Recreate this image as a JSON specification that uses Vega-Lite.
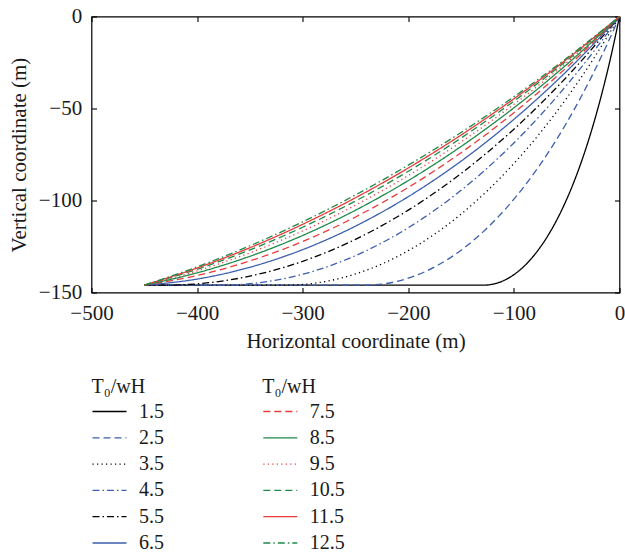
{
  "$schema": "https://vega.github.io/schema/vega-lite/v6.json",
  "width": 528,
  "height": 276,
  "autosize": {"type": "none"},
  "padding": {"left": 91.5, "top": 16.5, "right": 5.5, "bottom": 262.5},
  "config": {
    "font": "Liberation Serif",
    "view": {"stroke": "#000", "strokeWidth": 1.2},
    "axis": {
      "grid": false, "domain": false, "ticks": true, "tickColor": "#000", "tickSize": -5, "tickWidth": 1.1,
      "labelFont": "Liberation Serif", "labelFontSize": 21, "labelColor": "#1a1a1a", "labelFlush": false,
      "titleFont": "Liberation Serif", "titleFontSize": 21, "titleFontWeight": "normal", "titleColor": "#1a1a1a"
    },
    "legend": {
      "symbolType": "stroke", "symbolSize": 1156, "symbolStrokeWidth": 1.3,
      "labelFont": "Liberation Serif", "labelFontSize": 20, "labelColor": "#1a1a1a", "labelOffset": 11.5,
      "titleFont": "Liberation Serif", "titleFontSize": 20, "titleFontWeight": "normal", "titleColor": "#1a1a1a",
      "clipHeight": 22, "rowPadding": 4.3, "titlePadding": 3.5, "padding": 0
    }
  },
  "datasets": {
    "lo": [
      {"T": "1.5", "x": 0, "y": 0}, {"T": "1.5", "x": -5, "y": -13.64}, {"T": "1.5", "x": -10, "y": -26.32},
      {"T": "1.5", "x": -15, "y": -38.09}, {"T": "1.5", "x": -20, "y": -49.0}, {"T": "1.5", "x": -30, "y": -68.51},
      {"T": "1.5", "x": -40, "y": -85.18}, {"T": "1.5", "x": -50, "y": -99.33}, {"T": "1.5", "x": -60, "y": -111.24},
      {"T": "1.5", "x": -70, "y": -121.12}, {"T": "1.5", "x": -80, "y": -129.16}, {"T": "1.5", "x": -90, "y": -135.51},
      {"T": "1.5", "x": -100, "y": -140.29}, {"T": "1.5", "x": -110, "y": -143.6}, {"T": "1.5", "x": -120, "y": -145.48},
      {"T": "1.5", "x": -128.7, "y": -146}, {"T": "1.5", "x": -450, "y": -146},

      {"T": "2.5", "x": 0, "y": 0}, {"T": "2.5", "x": -10, "y": -12.95}, {"T": "2.5", "x": -25, "y": -31.02},
      {"T": "2.5", "x": -50, "y": -57.69}, {"T": "2.5", "x": -75, "y": -80.35}, {"T": "2.5", "x": -100, "y": -99.29},
      {"T": "2.5", "x": -125, "y": -114.78}, {"T": "2.5", "x": -150, "y": -126.99}, {"T": "2.5", "x": -175, "y": -136.1},
      {"T": "2.5", "x": -200, "y": -142.23}, {"T": "2.5", "x": -225, "y": -145.44}, {"T": "2.5", "x": -240.6, "y": -146},
      {"T": "2.5", "x": -450, "y": -146},

      {"T": "3.5", "x": 0, "y": 0}, {"T": "3.5", "x": -25, "y": -23.32}, {"T": "3.5", "x": -50, "y": -44.34},
      {"T": "3.5", "x": -75, "y": -63.18}, {"T": "3.5", "x": -100, "y": -79.91}, {"T": "3.5", "x": -125, "y": -94.62},
      {"T": "3.5", "x": -150, "y": -107.38}, {"T": "3.5", "x": -175, "y": -118.24}, {"T": "3.5", "x": -200, "y": -127.26},
      {"T": "3.5", "x": -225, "y": -134.48}, {"T": "3.5", "x": -250, "y": -139.93}, {"T": "3.5", "x": -275, "y": -143.64},
      {"T": "3.5", "x": -300, "y": -145.63}, {"T": "3.5", "x": -316.5, "y": -146}, {"T": "3.5", "x": -450, "y": -146},

      {"T": "4.5", "x": 0, "y": 0}, {"T": "4.5", "x": -25, "y": -19.42}, {"T": "4.5", "x": -50, "y": -37.31},
      {"T": "4.5", "x": -75, "y": -53.73}, {"T": "4.5", "x": -100, "y": -68.71}, {"T": "4.5", "x": -150, "y": -94.46},
      {"T": "4.5", "x": -200, "y": -114.81}, {"T": "4.5", "x": -250, "y": -129.98}, {"T": "4.5", "x": -300, "y": -140.09},
      {"T": "4.5", "x": -325, "y": -143.29}, {"T": "4.5", "x": -350, "y": -145.25}, {"T": "4.5", "x": -377.6, "y": -146},
      {"T": "4.5", "x": -450, "y": -146},

      {"T": "5.5", "x": 0, "y": 0}, {"T": "5.5", "x": -50, "y": -32.84}, {"T": "5.5", "x": -100, "y": -61.23},
      {"T": "5.5", "x": -150, "y": -85.31}, {"T": "5.5", "x": -200, "y": -105.23}, {"T": "5.5", "x": -250, "y": -121.11},
      {"T": "5.5", "x": -300, "y": -133.04}, {"T": "5.5", "x": -350, "y": -141.09}, {"T": "5.5", "x": -400, "y": -145.3},
      {"T": "5.5", "x": -430.3, "y": -146}, {"T": "5.5", "x": -450, "y": -146},

      {"T": "6.5", "x": 0, "y": 0}, {"T": "6.5", "x": -50, "y": -29.73}, {"T": "6.5", "x": -100, "y": -55.9},
      {"T": "6.5", "x": -150, "y": -78.6}, {"T": "6.5", "x": -200, "y": -97.91}, {"T": "6.5", "x": -250, "y": -113.93},
      {"T": "6.5", "x": -300, "y": -126.7}, {"T": "6.5", "x": -350, "y": -136.28}, {"T": "6.5", "x": -400, "y": -142.71},
      {"T": "6.5", "x": -450, "y": -146}
    ],
    "hi": [
      {"T": "7.5", "x": 0, "y": 0}, {"T": "7.5", "x": -50, "y": -27.66}, {"T": "7.5", "x": -100, "y": -52.29},
      {"T": "7.5", "x": -150, "y": -74.01}, {"T": "7.5", "x": -200, "y": -92.88}, {"T": "7.5", "x": -250, "y": -108.95},
      {"T": "7.5", "x": -300, "y": -122.26}, {"T": "7.5", "x": -350, "y": -132.85}, {"T": "7.5", "x": -400, "y": -140.76},
      {"T": "7.5", "x": -450, "y": -146},

      {"T": "8.5", "x": 0, "y": 0}, {"T": "8.5", "x": -50, "y": -26.1}, {"T": "8.5", "x": -100, "y": -49.63},
      {"T": "8.5", "x": -150, "y": -70.63}, {"T": "8.5", "x": -200, "y": -89.17}, {"T": "8.5", "x": -250, "y": -105.28},
      {"T": "8.5", "x": -300, "y": -118.99}, {"T": "8.5", "x": -350, "y": -130.33}, {"T": "8.5", "x": -400, "y": -139.33},
      {"T": "8.5", "x": -450, "y": -146},

      {"T": "9.5", "x": 0, "y": 0}, {"T": "9.5", "x": -50, "y": -25.02}, {"T": "9.5", "x": -100, "y": -47.69},
      {"T": "9.5", "x": -150, "y": -68.14}, {"T": "9.5", "x": -200, "y": -86.42}, {"T": "9.5", "x": -250, "y": -102.54},
      {"T": "9.5", "x": -300, "y": -116.54}, {"T": "9.5", "x": -350, "y": -128.44}, {"T": "9.5", "x": -400, "y": -138.26},
      {"T": "9.5", "x": -450, "y": -146},

      {"T": "10.5", "x": 0, "y": 0}, {"T": "10.5", "x": -50, "y": -23.99}, {"T": "10.5", "x": -100, "y": -46.0},
      {"T": "10.5", "x": -150, "y": -66.04}, {"T": "10.5", "x": -200, "y": -84.12}, {"T": "10.5", "x": -250, "y": -100.28},
      {"T": "10.5", "x": -300, "y": -114.52}, {"T": "10.5", "x": -350, "y": -126.88}, {"T": "10.5", "x": -400, "y": -137.37},
      {"T": "10.5", "x": -450, "y": -146},

      {"T": "11.5", "x": 0, "y": 0}, {"T": "11.5", "x": -50, "y": -23.25}, {"T": "11.5", "x": -100, "y": -44.73},
      {"T": "11.5", "x": -150, "y": -64.42}, {"T": "11.5", "x": -200, "y": -82.33}, {"T": "11.5", "x": -250, "y": -98.51},
      {"T": "11.5", "x": -300, "y": -112.94}, {"T": "11.5", "x": -350, "y": -125.67}, {"T": "11.5", "x": -400, "y": -136.7},
      {"T": "11.5", "x": -450, "y": -146},

      {"T": "12.5", "x": 0, "y": 0}, {"T": "12.5", "x": -50, "y": -22.61}, {"T": "12.5", "x": -100, "y": -43.63},
      {"T": "12.5", "x": -150, "y": -63.02}, {"T": "12.5", "x": -200, "y": -80.8}, {"T": "12.5", "x": -250, "y": -96.98},
      {"T": "12.5", "x": -300, "y": -111.58}, {"T": "12.5", "x": -350, "y": -124.6}, {"T": "12.5", "x": -400, "y": -136.07},
      {"T": "12.5", "x": -450, "y": -146}
    ]
  },
  "layer": [
    {
      "data": {"name": "lo"},
      "mark": {"type": "line", "strokeWidth": 1.3, "interpolate": "monotone"},
      "encoding": {
        "x": {"field": "x", "type": "quantitative", "scale": {"domain": [-500, 0], "nice": false},
              "axis": {"orient": "bottom", "values": [-500, -400, -300, -200, -100, 0], "title": "Horizontal coordinate (m)", "labelPadding": 15, "titlePadding": 7}},
        "y": {"field": "y", "type": "quantitative", "scale": {"domain": [-150, 0], "nice": false},
              "axis": {"orient": "left", "values": [-150, -100, -50, 0], "title": "Vertical coordinate (m)", "labelPadding": 14.8, "titlePadding": 9}},
        "color": {"field": "T", "type": "nominal",
                  "scale": {"domain": ["1.5", "2.5", "3.5", "4.5", "5.5", "6.5"], "range": ["#000000", "#3c5fae", "#000000", "#3c5fae", "#000000", "#3c5fae"]},
                  "legend": {"title": "T₀/wH", "orient": "none", "legendX": 0, "legendY": 360.5}},
        "strokeDash": {"field": "T", "type": "nominal",
                  "scale": {"domain": ["1.5", "2.5", "3.5", "4.5", "5.5", "6.5"], "range": [[1, 0], [7, 4], [1.2, 3.3], [7, 3, 1.5, 3], [7, 3, 1.5, 3], [1, 0]]},
                  "legend": {"title": "T₀/wH", "orient": "none", "legendX": 0, "legendY": 360.5}}
      }
    },
    {
      "data": {"name": "hi"},
      "mark": {"type": "line", "strokeWidth": 1.3, "interpolate": "monotone"},
      "encoding": {
        "x": {"field": "x", "type": "quantitative", "scale": {"domain": [-500, 0], "nice": false},
              "axis": {"orient": "top", "values": [-500, -400, -300, -200, -100, 0], "title": null, "labels": false}},
        "y": {"field": "y", "type": "quantitative", "scale": {"domain": [-150, 0], "nice": false},
              "axis": {"orient": "right", "values": [-150, -100, -50, 0], "title": null, "labels": false}},
        "color": {"field": "T", "type": "nominal",
                  "scale": {"domain": ["7.5", "8.5", "9.5", "10.5", "11.5", "12.5"], "range": ["#ea3b3b", "#1f8a48", "#ea3b3b", "#1f8a48", "#ea3b3b", "#1f8a48"]},
                  "legend": {"title": "T₀/wH", "orient": "none", "legendX": 170.8, "legendY": 360.5}},
        "strokeDash": {"field": "T", "type": "nominal",
                  "scale": {"domain": ["7.5", "8.5", "9.5", "10.5", "11.5", "12.5"], "range": [[7, 4], [1, 0], [1.2, 3.3], [7, 4], [1, 0], [7, 3, 1.5, 3]]},
                  "legend": {"title": "T₀/wH", "orient": "none", "legendX": 170.8, "legendY": 360.5}}
      }
    }
  ],
  "resolve": {
    "scale": {"color": "independent", "strokeDash": "independent"},
    "axis": {"x": "independent", "y": "independent"}
  }
}
